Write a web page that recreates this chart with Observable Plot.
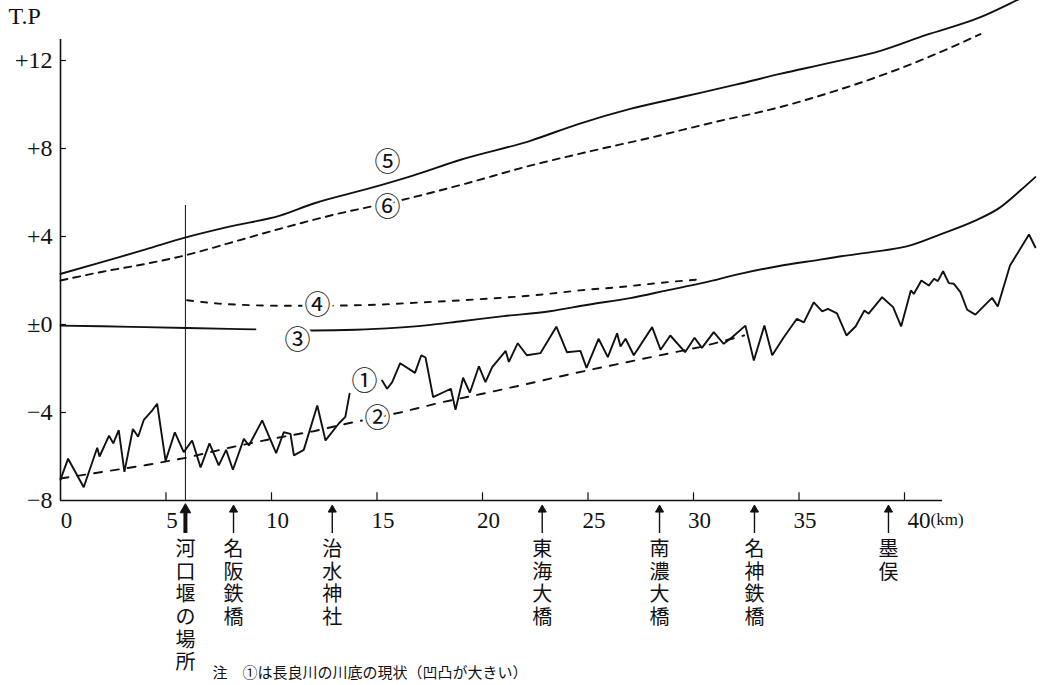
<!DOCTYPE html>
<html>
<head>
<meta charset="utf-8">
<script src="https://cdn.jsdelivr.net/npm/d3@7"></script>
<script src="https://cdn.jsdelivr.net/npm/@observablehq/plot@0.6"></script>
<style>
  html, body { margin: 0; padding: 0; background: #fff; }
  #chart svg { display: block; }
</style>
</head>
<body>
<div id="chart"></div>
<script>
// ---------- data (distance in km, level in T.P. metres) ----------
// ① present river bed (jagged), null = break in the line
const bedKm = [0, 0.36, 1.1, 1.74, 1.85, 2.3, 2.5, 2.76, 3.03, 3.43, 3.68, 3.95, 4.35, 4.58, 4.98, 5.42, 5.84, 6.24, 6.64, 7.06, 7.5, 7.85, 8.17, 8.69, 8.93, 9.56, 10.22, 10.58, 10.9, 11.06, 11.53, 12.17, 12.56, 13.19, 13.5, 13.7,
  14.5,
  15.24, 15.48, 15.72, 16.1, 16.8, 17.1, 17.3, 17.66, 18.5, 18.72, 19.08, 19.4, 19.83, 20.14, 20.46, 21.1, 21.25, 21.67, 22.1, 22.75, 23.5, 24.0, 24.64, 24.93, 25.5, 25.94, 26.38, 26.54, 26.78, 27.17, 28.04, 28.44, 28.9, 29.6, 30.05, 30.4, 30.96, 31.43, 31.83, 32.46, 32.86, 33.36, 33.73, 34.28, 34.9, 35.23, 35.7, 36.1, 36.37, 36.8, 37.25, 37.68, 38.1, 38.3, 38.94, 39.46, 39.84, 40.3, 40.44, 40.8, 41.15, 41.4, 41.58, 41.83, 42.1, 42.34, 42.65, 42.97, 43.36, 44.15, 44.42, 45.0, 45.9, 46.2];
const bedLevel = [-7.05, -6.1, -7.4, -5.6, -6.0, -5.05, -5.4, -4.8, -6.7, -4.75, -5.1, -4.33, -3.9, -3.6, -6.2, -4.9, -5.8, -5.27, -6.5, -5.4, -6.4, -5.7, -6.6, -5.2, -5.5, -4.36, -5.85, -4.9, -4.97, -5.95, -5.7, -3.68, -5.27, -4.5, -4.2, -3.15,
  null,
  -2.55, -2.92, -2.62, -1.76, -2.2, -1.4, -1.5, -3.3, -2.92, -3.88, -2.42, -3.1, -1.9, -2.62, -1.94, -1.2, -1.7, -0.85, -1.4, -1.3, -0.1, -1.26, -1.2, -1.97, -0.65, -1.48, -0.4, -1.0, -0.65, -1.4, -0.12, -1.15, -0.5, -1.26, -0.6, -1.06, -0.35, -0.88, -0.58, -0.05, -1.64, -0.05, -1.4, -0.58, 0.26, 0.1, 1.01, 0.6, 0.71, 0.51, -0.5, -0.09, 0.64, 0.49, 1.24, 0.79, -0.09, 1.55, 1.39, 2.0, 1.77, 2.08, 1.97, 2.42, 1.88, 1.85, 1.47, 0.67, 0.45, 1.21, 0.82, 2.68, 4.09, 3.51];

// ② planned bed (dashed)
const planBedKm = [0, 2, 4, 6, 8, 10, 12, 13.6, 16.1, 18, 20, 21.8, 23.4, 25, 28, 30.3, 32.4];
const planBedLevel = [-7.0, -6.7, -6.4, -6.05, -5.6, -5.2, -4.85, -4.5, -4.0, -3.55, -3.15, -2.77, -2.42, -2.08, -1.48, -1.03, -0.5];

// ③ solid line near ±0, null = break
const line3Km = [0, 2, 4, 6, 8, 9.24, 10, 11.04, 12, 14, 16, 17.2, 19, 21, 23.2, 25, 27, 28.75, 30.5, 32.2, 34, 36, 37, 38.5, 40.1, 41.7, 43.3, 44.5, 45.5, 46.2];
const line3Level = [-0.05, -0.08, -0.12, -0.16, -0.2, -0.22, null, -0.27, -0.27, -0.24, -0.14, -0.05, 0.15, 0.38, 0.6, 0.9, 1.2, 1.55, 1.9, 2.3, 2.65, 2.95, 3.1, 3.3, 3.55, 4.1, 4.7, 5.3, 6.1, 6.7];

// ④ dashed line from the weir site
const line4Km = [6.0, 7.5, 9, 11, 13, 15, 17, 19, 21, 23.2, 24.6, 26.5, 28.5, 30.3];
const line4Level = [1.1, 0.95, 0.88, 0.85, 0.86, 0.9, 1.0, 1.1, 1.22, 1.4, 1.55, 1.7, 1.9, 2.05];

// ⑤ upper solid line
const line5Km = [0, 2, 4, 5.9, 8, 10.4, 12, 14.5, 16.7, 19, 22.3, 24.5, 27, 29.5, 32, 34.1, 36.5, 38.9, 41, 43.6, 45.3, 46.5];
const line5Level = [2.3, 2.85, 3.4, 3.95, 4.45, 4.95, 5.5, 6.15, 6.77, 7.5, 8.36, 9.1, 9.8, 10.35, 10.9, 11.39, 11.9, 12.45, 13.15, 13.97, 14.73, 15.3];

// ⑥ upper dashed line
const line6Km = [0, 2, 4, 5.9, 8, 10.4, 13, 16.4, 19, 22.3, 25, 28, 31, 34.1, 36.5, 38.9, 41, 43.6];
const line6Level = [2.0, 2.4, 2.75, 3.14, 3.7, 4.35, 5.0, 5.71, 6.35, 7.23, 7.85, 8.5, 9.2, 9.88, 10.55, 11.32, 12.1, 13.2];

// curve tags
const tagText = ["①", "②", "③", "④", "⑤", "⑥"];
const tagKm = [14.41, 15.02, 11.23, 12.18, 15.5, 15.5];
const tagLevel = [-2.59, -4.27, -0.73, 0.86, 7.36, 5.32];

// axes
const yTicks = [12, 8, 4, 0, -4, -8];
const yTickLabels = ["+12", "+8", "+4", "±0", "−4", "−8"];
const xTicks = [0, 5, 10, 15, 20, 25, 30, 35, 40];
const xTickLabels = ["0", "5", "10", "15", "20", "25", "30", "35", "40"];
const xAxisEndKm = 41.8;
const yAxisTop = 12.95;

// landmarks along the river
const landmarkNames = ["河口堰の場所", "名阪鉄橋", "治水神社", "東海大橋", "南濃大橋", "名神鉄橋", "墨俣"];
const landmarkKm = [5.92, 8.2, 12.88, 22.83, 28.39, 32.89, 39.24];
const weirLineTop = 5.41;

const noteText = "注　①は長良川の川底の現状（凹凸が大きい）";

// ---------- build tables ----------
const rows = (ks, vs) => ks.map((k, i) => ({km: k, v: vs[i]}));
const bed = rows(bedKm, bedLevel);
const planBed = rows(planBedKm, planBedLevel);
const l3 = rows(line3Km, line3Level);
const l4 = rows(line4Km, line4Level);
const l5 = rows(line5Km, line5Level);
const l6 = rows(line6Km, line6Level);
const tags = tagText.map((t, i) => ({t, km: tagKm[i], v: tagLevel[i]}));
const landmarks = landmarkNames.map((n, i) => ({n, km: landmarkKm[i], main: i === 0}));

const serif = "Liberation Serif";
const cjk = "Noto Sans CJK JP";
// compact line box (Latin primary font) with CJK glyphs from the fallback
const cjkCompact = "'Liberation Serif', 'Noto Sans CJK JP'";
const ink = "#111";

const chart = Plot.plot({
  width: 1042,
  height: 685,
  marginLeft: 60,
  marginRight: 0,
  marginTop: 0,
  marginBottom: 185,
  x: {domain: [0, 46.54], axis: null},
  y: {domain: [-8, 14.727], axis: null},
  style: {background: "#fff", color: ink, overflow: "visible"},
  marks: [
    // axes
    Plot.ruleX([0], {y1: -8, y2: yAxisTop, stroke: ink, strokeWidth: 1.6}),
    Plot.ruleY([-8], {x1: 0, x2: xAxisEndKm, stroke: ink, strokeWidth: 1.6}),
    Plot.ruleY(yTicks.filter(d => d !== -8), {x1: 0, x2: 0.28, stroke: ink, strokeWidth: 1.2}),
    Plot.ruleX(xTicks.filter(d => d !== 0), {y1: -8, y2: -7.65, stroke: ink, strokeWidth: 1.2}),
    Plot.text(yTicks, {x: 0, y: d => d, text: (d, i) => yTickLabels[i], dx: -8, textAnchor: "end", fontSize: 24, fontFamily: serif, fill: ink}),
    Plot.text(xTicks.slice(0, -1), {x: d => d, y: -8, text: (d, i) => xTickLabels[i], dx: 6, dy: 20, fontSize: 23, fontFamily: serif, fill: ink}),
    Plot.text([xTicks[xTicks.length - 1]], {x: d => d, y: -8, text: () => xTickLabels[xTickLabels.length - 1], dx: 3, dy: 20, textAnchor: "start", fontSize: 23, fontFamily: serif, fill: ink}),
    Plot.text([xTicks[xTicks.length - 1]], {x: d => d, y: -8, text: () => "(km)", dx: 26, dy: 19, textAnchor: "start", fontSize: 17, fontFamily: serif, fill: ink}),
    Plot.text(["T.P"], {frameAnchor: "top-left", dx: -52, dy: 6, textAnchor: "start", lineAnchor: "top", fontSize: 24, fontFamily: serif, fill: ink}),

    // weir site vertical line
    Plot.ruleX([landmarkKm[0]], {y1: -8, y2: weirLineTop, stroke: ink, strokeWidth: 1}),

    // curves
    Plot.line(l5, {x: "km", y: "v", stroke: ink, strokeWidth: 1.9, curve: "monotone-x"}),
    Plot.line(l6, {x: "km", y: "v", stroke: ink, strokeWidth: 1.9, strokeDasharray: "7,6", curve: "monotone-x"}),
    Plot.line(l3, {x: "km", y: "v", stroke: ink, strokeWidth: 1.9, curve: "monotone-x"}),
    Plot.line(l4, {x: "km", y: "v", stroke: ink, strokeWidth: 1.9, strokeDasharray: "6,8", curve: "monotone-x"}),
    Plot.line(planBed, {x: "km", y: "v", stroke: ink, strokeWidth: 1.9, strokeDasharray: "8,9"}),
    Plot.line(bed, {x: "km", y: "v", stroke: ink, strokeWidth: 1.9, strokeLinejoin: "miter"}),

    // curve tags with white halo
    Plot.text(tags, {x: "km", y: "v", text: "t", fontSize: 26, fontFamily: cjk, fill: ink, stroke: "#fff", strokeWidth: 6}),

    // landmark arrows
    Plot.ruleX(landmarks, {x: "km", y1: -8.45, y2: -9.5, stroke: ink, strokeWidth: d => d.main ? 4 : 1.4}),
    Plot.dot(landmarks, {x: "km", y: -8.42, symbol: "triangle", r: d => d.main ? 6 : 3.5, fill: ink, stroke: ink, strokeWidth: 1}),
    // landmark names written top to bottom, one character per line
    Plot.text(landmarks, {x: "km", y: -9.8, text: d => d.n.split("").join("\n"), lineAnchor: "top", lineHeight: 1.13, fontSize: 20, fontFamily: cjkCompact, fill: ink}),

    // note
    Plot.text([noteText], {x: landmarkKm[0], y: -15.86, dx: 27, textAnchor: "start", fontSize: 15, fontFamily: cjk, fill: ink})
  ]
});

document.getElementById("chart").appendChild(chart);
</script>
</body>
</html>
